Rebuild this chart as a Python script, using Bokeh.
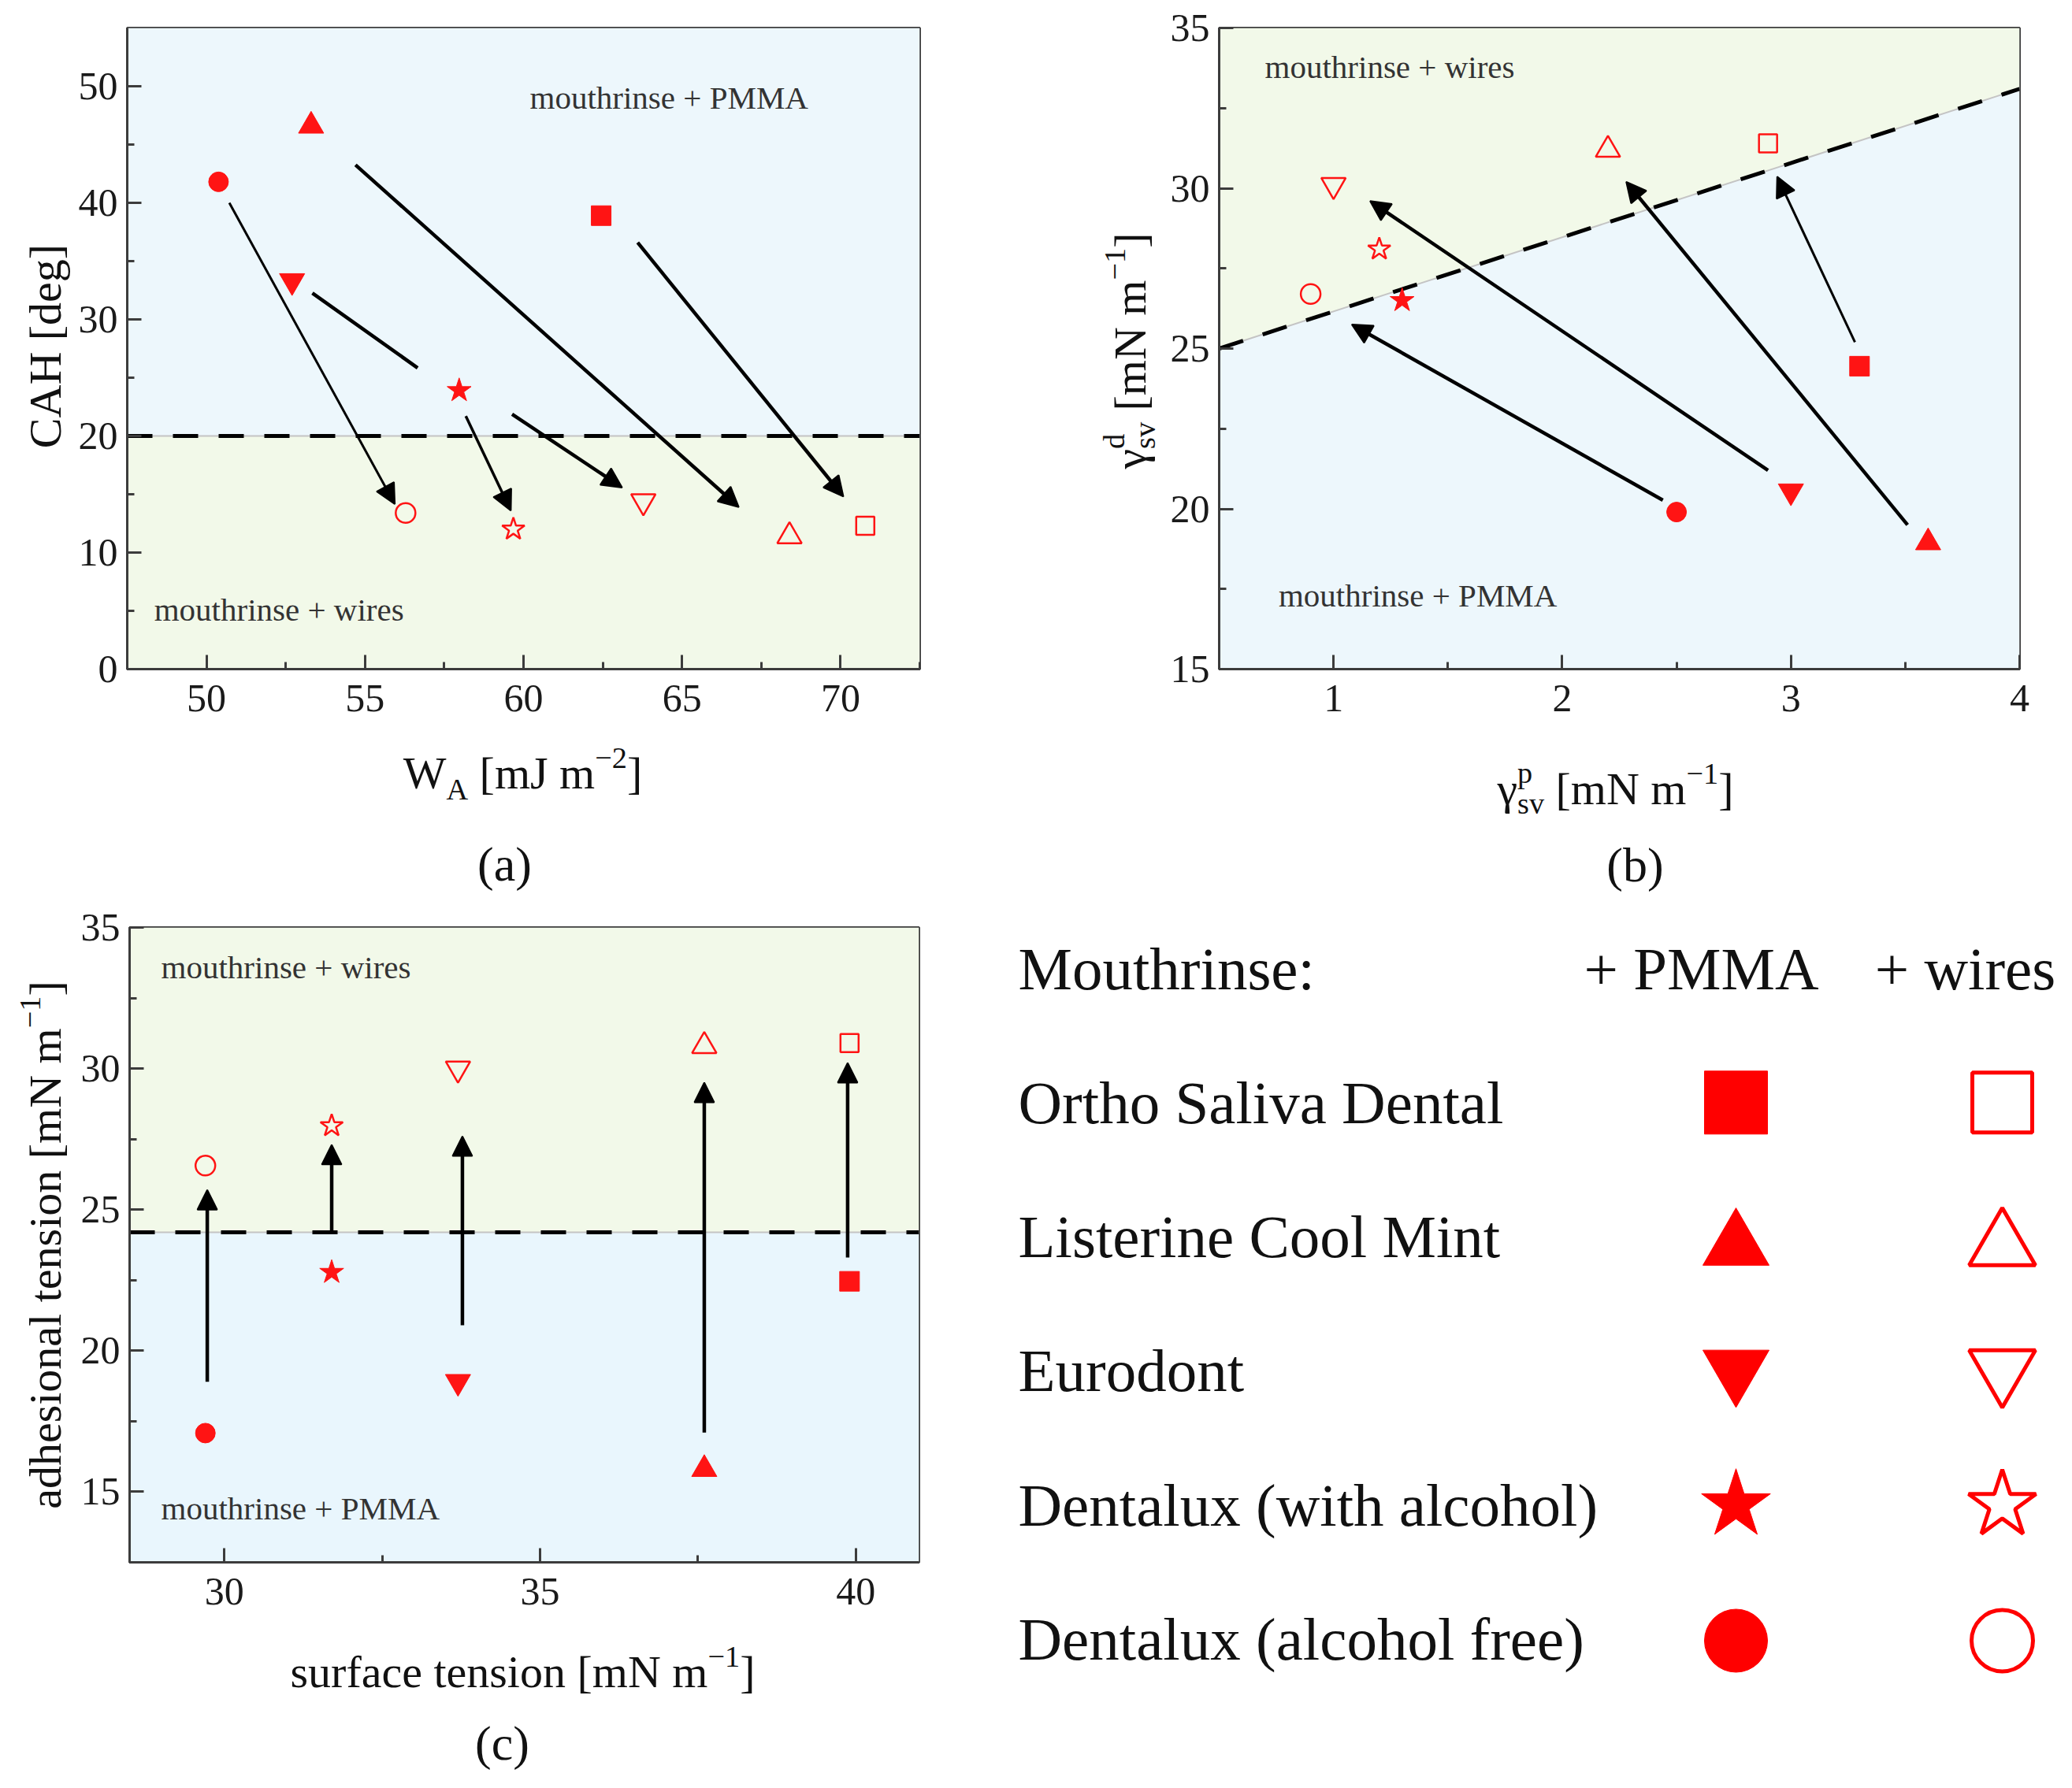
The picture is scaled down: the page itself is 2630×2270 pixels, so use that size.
import math
from bokeh.plotting import figure
from bokeh.models import (ColumnDataSource, Range1d, FixedTicker, Arrow, NormalHead,
                          Label, BoxAnnotation)
from bokeh.layouts import column, row
from bokeh.embed import file_html
from bokeh.resources import INLINE
from bokeh.core.properties import value

# ---------------- data ----------------
mouthrinses = ["Ortho Saliva Dental", "Listerine Cool Mint", "Eurodont",
               "Dentalux (with alcohol)", "Dentalux (alcohol free)"]
markers = ["square", "triangle", "inverted_triangle", "star", "circle"]

# (a) CAH vs work of adhesion
a_wa_pmma = [62.45, 53.3, 52.7, 57.97, 50.38]
a_cah_pmma = [38.9, 46.6, 33.3, 23.9, 41.8]
a_wa_wires = [70.78, 68.39, 63.78, 59.68, 56.28]
a_cah_wires = [12.3, 11.4, 14.4, 12.0, 13.4]
a_arrow_x0 = [63.6, 54.7, 59.64, 58.18, 50.72]
a_arrow_y0 = [36.6, 43.25, 21.86, 21.7, 40.0]
a_arrow_x1 = [70.09, 66.79, 63.11, 59.6, 55.94]
a_arrow_y1 = [14.8, 13.9, 15.58, 13.6, 14.16]
a_seg_x = [53.34, 56.66]          # first piece of the interrupted Eurodont arrow
a_seg_y = [32.25, 25.84]
a_threshold = 20

# (b) dispersive vs polar surface free energy
b_p_pmma = [3.3, 3.6, 3.0, 1.3, 2.5]
b_d_pmma = [24.45, 18.95, 20.55, 26.5, 19.9]
b_p_wires = [2.9, 2.2, 1.0, 1.2, 0.9]
b_d_wires = [31.4, 31.2, 30.1, 28.1, 26.7]
b_arrow_x0 = [3.28, 3.51, 2.90, 2.44]
b_arrow_y0 = [25.2, 19.5, 21.2, 20.27]
b_arrow_x1 = [2.94, 2.28, 1.16, 1.08]
b_arrow_y1 = [30.36, 30.2, 29.6, 25.75]
b_line_x = [0.5, 4.0]
b_line_y = [25.0, 33.1]

# (c) adhesional tension vs surface tension
c_st = [39.9, 37.6, 33.7, 31.7, 29.7]
c_at_pmma = [22.46, 15.8, 18.9, 22.78, 17.08]
c_at_wires = [30.9, 30.8, 30.0, 27.97, 26.56]
c_arrow_x = [39.87, 37.6, 33.77, 31.7, 29.73]
c_arrow_y0 = [23.3, 17.1, 20.9, 24.2, 18.9]
c_arrow_y1 = [30.2, 29.5, 27.6, 27.3, 25.7]
c_threshold = 24.2

# ---------------- styles ----------------
SERIF = "Liberation Serif"
RED = "#ff1414"
BLUE_BG = "#edf7fc"
GREEN_BG = "#f2f9e9"
AX = "#3c3c3c"
TXT = "#111111"
F_AX = 58

filled_sizes = [25, 32, 32, 32, 25]
open_sizes = [23, 31, 31, 30, 25]

TW = {' ': 250, '[': 333, ']': 333, 'm': 778, 'J': 389, 'N': 722, 'W': 944, 'A': 722,
      'C': 667, 'H': 722, 'd': 500, 'e': 444, 'g': 500, 'a': 444, 'h': 500, 'i': 278,
      'n': 500, 'o': 500, 'l': 278, 's': 389, 't': 278, 'u': 500, 'r': 333, 'f': 333,
      'c': 444, 'v': 500, 'p': 500, '\u2212': 564, '1': 500, '2': 500, '\u03b3': 440}


def tw(s, size):
    return sum(TW.get(ch, 500) for ch in s) * size / 1000.0


def text_fig(x0, x1, y0, y1, bt=0, bb=0):
    """Figure whose frame spans page pixels x0..x1, y0..y1 (data y = -page y)."""
    p = figure(x_range=Range1d(x0, x1), y_range=Range1d(-y1, -y0),
               frame_width=int(x1 - x0), frame_height=int(y1 - y0),
               min_border_left=0, min_border_right=0, min_border_top=bt, min_border_bottom=bb,
               x_axis_type=None, y_axis_type=None, output_backend="svg", toolbar_location=None)
    p.outline_line_color = None
    p.xgrid.visible = False
    p.ygrid.visible = False
    p.background_fill_color = "white"
    p.border_fill_color = "white"
    return p


def put_text(p, txt, px, py, size, align="left", baseline="middle", angle=0.0):
    p.text(x=[px], y=[-py], text=[txt], text_font=value(SERIF), text_font_size=f"{size:.1f}px",
           text_align=align, text_baseline=baseline, angle=angle, text_color=TXT)


def rich_label(p, pieces, cx, cy, F=F_AX, vertical=False):
    """pieces: (text, kind) with kind 'n', 'sub', 'sup' or 'stack' ((sup, sub))."""
    small = 0.66 * F

    def width(txt, kind):
        if kind == "n":
            return tw(txt, F)
        if kind in ("sub", "sup"):
            return tw(txt, small)
        return max(tw(txt[0], small), tw(txt[1], small))

    runs = []
    pos = 0.0
    for txt, kind in pieces:
        if kind == "stack":
            runs.append((txt[0], small, pos, 0.36 * F))
            runs.append((txt[1], small, pos, -0.32 * F))
            pos += width(txt, kind)
            continue
        stripped = txt.lstrip(" ")
        lead = len(txt) - len(stripped)
        size = F if kind == "n" else small
        pos += lead * 0.25 * size
        shift = {"n": 0.0, "sub": -0.36 * F, "sup": 0.32 * F}[kind]
        runs.append((stripped, size, pos, shift))
        pos += width(stripped, kind)
    total = pos
    for txt, size, along, shift in runs:
        if not vertical:
            put_text(p, txt, cx - total / 2 + along, cy - shift, size)
        else:
            put_text(p, txt, cx - shift, cy + total / 2 - along, size, angle=math.pi / 2)


def make_fig(xr, yr, fw, fh, bl, br, bt, bb):
    p = figure(x_range=Range1d(*xr), y_range=Range1d(*yr), frame_width=fw, frame_height=fh,
               min_border_left=bl, min_border_right=br, min_border_top=bt, min_border_bottom=bb,
               output_backend="svg", toolbar_location=None)
    p.xgrid.visible = False
    p.ygrid.visible = False
    p.outline_line_color = AX
    p.outline_line_width = 3
    p.background_fill_color = "white"
    p.border_fill_color = "white"
    return p


def style_axes(p, xt, xm, yt, ym):
    p.xaxis.ticker = FixedTicker(ticks=xt, minor_ticks=xm)
    p.yaxis.ticker = FixedTicker(ticks=yt, minor_ticks=ym)
    for ax in p.axis:
        ax.axis_line_color = AX
        ax.axis_line_width = 3
        ax.major_tick_in = 18
        ax.major_tick_out = 0
        ax.minor_tick_in = 9
        ax.minor_tick_out = 0
        ax.major_tick_line_color = AX
        ax.major_tick_line_width = 3
        ax.minor_tick_line_color = AX
        ax.minor_tick_line_width = 3
        ax.major_label_text_font = SERIF
        ax.major_label_text_font_size = "50px"
        ax.major_label_text_color = "#1a1a1a"
    p.xaxis.major_label_standoff = 20
    p.yaxis.major_label_standoff = 12


def add_points(p, xf, yf, xo, yo):
    sf = ColumnDataSource(dict(x=xf, y=yf, marker=markers, size=filled_sizes))
    so = ColumnDataSource(dict(x=xo, y=yo, marker=markers, size=open_sizes))
    p.scatter(x="x", y="y", marker="marker", size="size", source=sf,
              fill_color=RED, line_color=RED, line_width=1)
    p.scatter(x="x", y="y", marker="marker", size="size", source=so,
              fill_color=None, line_color=RED, line_width=2.5)


def add_arrow(p, x0, y0, x1, y1, lw):
    p.add_layout(Arrow(end=NormalHead(size=25, fill_color="black", line_color="black",
                                      line_width=2),
                       x_start=x0, y_start=y0, x_end=x1, y_end=y1,
                       line_width=lw, line_color="black"))


def region_text(p, text, x, y):
    p.add_layout(Label(x=x, y=y, text=text, text_font=SERIF, text_font_size="41px",
                       text_align="left", text_baseline="middle", text_color="#333333"))


def threshold_line(p, xs, ys):
    p.line(xs, ys, line_color="#c4c4c4", line_width=2)
    p.line(xs, ys, line_color="black", line_width=5, line_dash="32 26")


# ---------------- page geometry (pixels) ----------------
R1_TOP, R1_FT, R1_FB, R1_BOT = 0, 35, 849, 939      # row 1: frame top/bottom
R2_TOP, C_FT, C_FB, C_BOT = 1140, 1177, 1983, 2073   # row 2
PAGE_BOT = 2266

# ---------------- panel (a) ----------------
A_X = (47.5, 72.5)
A_Y = (0, 55)
A_FL, A_FR = 161, 1167
YLA_W = 90
pa = make_fig(A_X, A_Y, A_FR - A_FL, R1_FB - R1_FT, A_FL - YLA_W, 1338 - A_FR,
              R1_FT - R1_TOP, R1_BOT - R1_FB)
pa.add_layout(BoxAnnotation(bottom=a_threshold, fill_color=BLUE_BG, fill_alpha=1,
                            line_color=None, level="underlay"))
pa.add_layout(BoxAnnotation(top=a_threshold, fill_color=GREEN_BG, fill_alpha=1,
                            line_color=None, level="underlay"))
threshold_line(pa, list(A_X), [a_threshold, a_threshold])
style_axes(pa, [50, 55, 60, 65, 70], [47.5, 52.5, 57.5, 62.5, 67.5, 72.5],
           [0, 10, 20, 30, 40, 50], [5, 15, 25, 35, 45])
pa.line(a_seg_x, a_seg_y, line_color="black", line_width=4.5)
a_lw = [4.5, 4.5, 4.5, 3.5, 3]
for i in range(len(a_arrow_x0)):
    add_arrow(pa, a_arrow_x0[i], a_arrow_y0[i], a_arrow_x1[i], a_arrow_y1[i], a_lw[i])
add_points(pa, a_wa_pmma, a_cah_pmma, a_wa_wires, a_cah_wires)
region_text(pa, "mouthrinse + PMMA", 60.2, 49.0)
region_text(pa, "mouthrinse + wires", 48.35, 5.1)

yla = text_fig(0, YLA_W, R1_FT, R1_FB, bt=R1_FT - R1_TOP, bb=R1_BOT - R1_FB)
rich_label(yla, [("CAH [deg]", "n")], 57, 439, vertical=True)

# ---------------- panel (b) ----------------
B_X = (0.5, 4.0)
B_Y = (15, 35)
B_FL, B_FR = 1547, 2563
YLB_L = 1338
YLB_R = 1478
pb = make_fig(B_X, B_Y, B_FR - B_FL, R1_FB - R1_FT, B_FL - YLB_R, 59,
              R1_FT - R1_TOP, R1_BOT - R1_FB)
pb.varea(x=b_line_x, y1=b_line_y, y2=[B_Y[1], B_Y[1]], fill_color=GREEN_BG, fill_alpha=1)
pb.varea(x=b_line_x, y1=[B_Y[0], B_Y[0]], y2=b_line_y, fill_color=BLUE_BG, fill_alpha=1)
threshold_line(pb, b_line_x, b_line_y)
style_axes(pb, [1, 2, 3, 4], [1.5, 2.5, 3.5], [15, 20, 25, 30, 35], [17.5, 22.5, 27.5, 32.5])
b_lw = [3, 4.5, 4.5, 4.5]
for i in range(len(b_arrow_x0)):
    add_arrow(pb, b_arrow_x0[i], b_arrow_y0[i], b_arrow_x1[i], b_arrow_y1[i], b_lw[i])
add_points(pb, b_p_pmma, b_d_pmma, b_p_wires, b_d_wires)
region_text(pb, "mouthrinse + wires", 0.70, 33.78)
region_text(pb, "mouthrinse + PMMA", 0.76, 17.3)

ylb = text_fig(YLB_L, YLB_R, R1_FT, R1_FB, bt=R1_FT - R1_TOP, bb=R1_BOT - R1_FB)
rich_label(ylb, [("\u03b3", "n"), (("d", "sv"), "stack"), (" [mN m", "n"),
                 ("\u22121", "sup"), ("]", "n")], 1434, 445, vertical=True)

# row 1 x labels and captions
xl1 = text_fig(0, 2622, R1_BOT, R2_TOP)
rich_label(xl1, [("W", "n"), ("A", "sub"), (" [mJ m", "n"), ("\u22122", "sup"), ("]", "n")],
           663, 981)
rich_label(xl1, [("\u03b3", "n"), (("p", "sv"), "stack"), (" [mN m", "n"),
                 ("\u22121", "sup"), ("]", "n")], 2050, 1001)
put_text(xl1, "(a)", 640, 1096, 62, align="center")
put_text(xl1, "(b)", 2075, 1097, 62, align="center")

# ---------------- panel (c) ----------------
C_X = (28.5, 41.0)
C_Y = (12.5, 35)
C_FL, C_FR = 164, 1166
YLC_W = 90
LEG_L = 1278
pc = make_fig(C_X, C_Y, C_FR - C_FL, C_FB - C_FT, C_FL - YLC_W, LEG_L - C_FR,
              C_FT - R2_TOP, C_BOT - C_FB)
pc.add_layout(BoxAnnotation(bottom=c_threshold, fill_color=GREEN_BG, fill_alpha=1,
                            line_color=None, level="underlay"))
pc.add_layout(BoxAnnotation(top=c_threshold, fill_color="#e9f6fd", fill_alpha=1,
                            line_color=None, level="underlay"))
threshold_line(pc, list(C_X), [c_threshold, c_threshold])
style_axes(pc, [30, 35, 40], [32.5, 37.5], [15, 20, 25, 30, 35], [12.5, 17.5, 22.5, 27.5, 32.5])
for i in range(len(c_arrow_x)):
    add_arrow(pc, c_arrow_x[i], c_arrow_y0[i], c_arrow_x[i], c_arrow_y1[i], 4.5)
add_points(pc, c_st, c_at_pmma, c_st, c_at_wires)
region_text(pc, "mouthrinse + wires", 29.0, 33.6)
region_text(pc, "mouthrinse + PMMA", 29.0, 14.4)

ylc = text_fig(0, YLC_W, C_FT, C_FB, bt=C_FT - R2_TOP, bb=C_BOT - C_FB)
rich_label(ylc, [("adhesional tension [mN m", "n"), ("\u22121", "sup"), ("]", "n")], 57, 1580,
           vertical=True)
xlc = text_fig(0, LEG_L, C_BOT, PAGE_BOT)
rich_label(xlc, [("surface tension [mN m", "n"), ("\u22121", "sup"), ("]", "n")], 663, 2122)
put_text(xlc, "(c)", 637, 2212, 62, align="center")

# ---------------- legend panel ----------------
pl = text_fig(LEG_L, 2622, R2_TOP, PAGE_BOT)
header_y = 1229
row_step = 170.3
text_x = 1292
col_pmma = 2203
col_wires = 2541
row_y = [header_y + (i + 1) * row_step for i in range(len(mouthrinses))]
marker_dy = {"square": 0, "triangle": 12, "inverted_triangle": -2, "star": 0, "circle": 2}
leg_filled = [80, 84, 84, 92, 80]
leg_open = [76, 84, 84, 90, 78]
put_text(pl, "Mouthrinse:", text_x, header_y, 77)
put_text(pl, "+ PMMA", 2159, header_y, 77, align="center")
put_text(pl, "+ wires", 2494, header_y, 77, align="center")
pl.text(x=[text_x] * len(mouthrinses), y=[-v for v in row_y], text=mouthrinses,
        text_font=value(SERIF), text_font_size="77px", text_baseline="middle",
        text_align="left", text_color=TXT)
my = [-(row_y[i] + marker_dy[markers[i]]) for i in range(len(markers))]
lsf = ColumnDataSource(dict(x=[col_pmma] * 5, y=my, marker=markers, size=leg_filled))
lso = ColumnDataSource(dict(x=[col_wires] * 5, y=my, marker=markers, size=leg_open))
pl.scatter(x="x", y="y", marker="marker", size="size", source=lsf, fill_color="#ff0000",
           line_color="#ff0000")
pl.scatter(x="x", y="y", marker="marker", size="size", source=lso, fill_color=None,
           line_color="#ff0000", line_width=5)

layout = column(
    row(yla, pa, ylb, pb),
    xl1,
    row(column(row(ylc, pc), xlc), pl),
)
open("out.html", "w").write(file_html(layout, INLINE))
